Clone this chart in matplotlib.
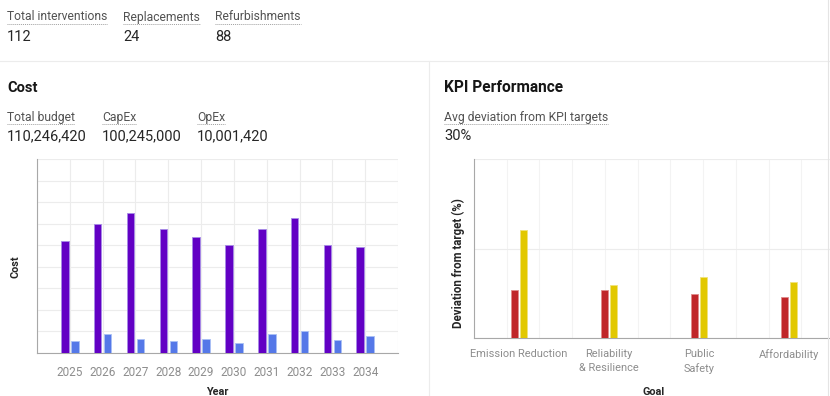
import matplotlib
matplotlib.use('Agg')
import matplotlib.pyplot as plt
import numpy as np

plt.rcParams['font.family'] = ['Roboto', 'DejaVu Sans']

# summary numbers
top_labels = ['Total interventions', 'Replacements', 'Refurbishments']
top_values = ['112', '24', '88']
cost_labels = ['Total budget', 'CapEx', 'OpEx']
cost_values = ['110,246,420', '100,245,000', '10,001,420']
kpi_label = 'Avg deviation from KPI targets'
kpi_value = '30%'

# cost chart (millions)
years = ['2025', '2026', '2027', '2028', '2029', '2030', '2031', '2032', '2033', '2034']
capex = [10.4, 12.0, 13.0, 11.5, 10.8, 10.0, 11.5, 12.5, 10.0, 9.8]
opex = [1.15, 1.75, 1.3, 1.15, 1.3, 0.95, 1.75, 2.0, 1.2, 1.55]

# KPI chart (%)
goals = ['Emission Reduction', 'Reliability\n& Resilience', 'Public\nSafety', 'Affordability']
dev_red = [26.9, 26.9, 24.8, 22.8]
dev_yellow = [60.2, 29.5, 33.8, 31.2]

W, H = 830, 396
fig = plt.figure(figsize=(W / 100, H / 100), dpi=100)


def fx(px):
    return px / W


def fy(py):
    return 1 - py / H


label_color = '#525252'
value_color = '#262626'
grid_color = '#ececec'
spine_color = '#a8a8a8'
tick_color = '#8d8d8d'

underlined = []


def stat(x, label, value, y_label, y_value):
    t = fig.text(fx(x), fy(y_label), label, fontsize=8.7, color=label_color, va='center', ha='left')
    underlined.append((t, y_label + 7))
    fig.text(fx(x), fy(y_value), value, fontsize=10.5, color=value_color, va='center', ha='left')


for x, lab, val in zip([7, 123, 215], top_labels, top_values):
    stat(x, lab, val, 17, 37)
for x, lab, val in zip([7, 102, 197], cost_labels, cost_values):
    stat(x, lab, val, 117, 136)
stat(444, kpi_label, kpi_value, 117, 136)

fig.text(fx(7), fy(88), 'Cost', fontsize=10.5, fontweight='bold', color='#161616', va='center')
fig.text(fx(444), fy(88), 'KPI Performance', fontsize=11.2, fontweight='bold', color='#161616', va='center')

# dividers
fig.add_artist(plt.Line2D([0, 1], [fy(61), fy(61)], color='#ececec', lw=0.8))
fig.add_artist(plt.Line2D([fx(429), fx(429)], [0, fy(61)], color='#ececec', lw=0.8))
fig.add_artist(plt.Line2D([fx(828), fx(828)], [0, 1], color='#e4e4e4', lw=0.8))

# cost chart
ax1 = fig.add_axes([fx(37), fy(353), fx(398) - fx(37), fy(159) - fy(353)])
x = np.arange(len(years))
ax1.bar(x - 0.15, capex, width=0.23, color='#6200c4', edgecolor='#a68be6', linewidth=0.6, zorder=3)
ax1.bar(x + 0.155, opex, width=0.23, color='#5578e8', edgecolor='#a9c0f5', linewidth=0.6, zorder=3)
ax1.set_xlim(-1, 10)
ax1.set_ylim(0, 18)
ax1.set_yticks(np.arange(0, 19, 2))
ax1.set_yticklabels([])
ax1.set_xticks(np.arange(-1, 11), minor=True)
ax1.set_xticks(x)
ax1.set_xticklabels(years, fontsize=8.5, color=tick_color)
ax1.tick_params(axis='both', which='both', length=0)
ax1.tick_params(axis='x', pad=9)
ax1.grid(True, which='both', color=grid_color, lw=0.8, zorder=0)
ax1.set_axisbelow(True)
for s in ['top', 'right']:
    ax1.spines[s].set_visible(False)
for s in ['left', 'bottom']:
    ax1.spines[s].set_color(spine_color)
ax1.set_xlabel('Year', fontsize=7.8, fontweight='bold', color='#262626', va='center')
ax1.xaxis.set_label_coords(0.5, (353 - 392) / 194)
ax1.set_ylabel('Cost', fontsize=7.8, fontweight='bold', color='#262626', va='center')
ax1.yaxis.set_label_coords((15 - 37) / 361, (353 - 267) / 194)

# KPI chart
ax2 = fig.add_axes([fx(474), fy(338), fx(834) - fx(474), fy(159) - fy(338)])
g = np.arange(len(goals))
ax2.bar(g - 0.053, dev_red, width=0.08, color='#c0262a', edgecolor='#e08a8a', linewidth=0.6, zorder=3)
ax2.bar(g + 0.054, dev_yellow, width=0.08, color='#e2c800', edgecolor='#f0e27a', linewidth=0.6, zorder=3)
ax2.set_xlim(-0.5, 3.5)
ax2.set_ylim(0, 100)
ax2.set_yticks([0, 50, 100])
ax2.set_yticklabels([])
ax2.set_xticks(np.linspace(-0.5, 3.5, 12), minor=True)
ax2.set_xticks(g)
ax2.set_xticklabels(goals, fontsize=7.9, color=tick_color, linespacing=1.5)
ax2.tick_params(axis='both', which='both', length=0)
ax2.tick_params(axis='x', pad=8)
ax2.grid(True, axis='y', color=grid_color, lw=0.8, zorder=0)
ax2.grid(True, axis='x', which='minor', color='#f3f3f3', lw=0.8, zorder=0)
ax2.set_axisbelow(True)
for s in ['top', 'right']:
    ax2.spines[s].set_visible(False)
for s in ['left', 'bottom']:
    ax2.spines[s].set_color(spine_color)
ax2.set_xlabel('Goal', fontsize=7.8, fontweight='bold', color='#262626', va='center')
ax2.xaxis.set_label_coords(0.5, (338 - 392) / 179)
ax2.set_ylabel('Deviation from target (%)', fontsize=8.3, fontweight='bold', color='#262626', va='center')
ax2.yaxis.set_label_coords((458 - 474) / 360, (338 - 263) / 179)

# dotted underlines under stat labels
fig.canvas.draw()
r = fig.canvas.get_renderer()
for t, uy in underlined:
    bb = t.get_window_extent(renderer=r)
    fig.add_artist(plt.Line2D([bb.x0 / W, bb.x1 / W], [fy(uy), fy(uy)], color='#a0a0a0',
                              lw=0.7, linestyle=(0, (1, 1))))

fig.savefig('out.png', dpi=100)
